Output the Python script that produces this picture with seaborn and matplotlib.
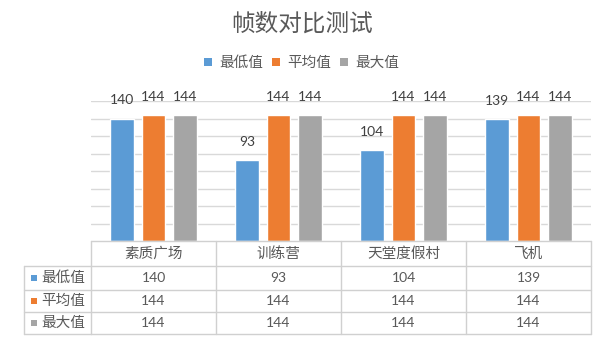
import matplotlib
matplotlib.use('Agg')
import matplotlib.pyplot as plt
import matplotlib.transforms as mtrans
from matplotlib.lines import Line2D
from matplotlib.patches import Rectangle
import seaborn as sns
import pandas as pd

# ---- data ----
categories = ['素质广场', '训练营', '天堂度假村', '飞机']
series_names = ['最低值', '平均值', '最大值']
min_vals = [140, 93, 104, 139]
avg_vals = [144, 144, 144, 144]
max_vals = [144, 144, 144, 144]
colors = ['#5B9BD5', '#ED7D31', '#A5A5A5']
title = '帧数对比测试'

sns.set_theme(style='white')
plt.rcParams['font.family'] = ['Noto Sans CJK SC', 'DejaVu Sans']

W, H = 610, 354
fig = plt.figure(figsize=(W / 100, H / 100), dpi=100)
fig.patch.set_facecolor('white')


def fx(x):
    return x / W


def fy(y):
    return 1 - y / H


TXT = '#595959'
GRID = '#D9D9D9'
LINE = '#D0D0D0'

left, right, top, bottom = 91, 591, 101, 241
ax = fig.add_axes([fx(left), fy(bottom), fx(right) - fx(left), fy(top) - fy(bottom)])

df = pd.DataFrame({
    '类别': categories * 3,
    '系列': [s for s in series_names for _ in categories],
    '值': min_vals + avg_vals + max_vals,
})
sns.barplot(data=df, x='类别', y='值', hue='系列', palette=colors,
            width=0.75, gap=0.24, saturation=1, ax=ax, legend=True,
            zorder=3)

handles, labels = ax.get_legend_handles_labels()
ax.get_legend().remove()

ax.set_ylim(0, 160)
ax.set_xlim(-0.5, len(categories) - 0.5)
ax.set_yticks(range(20, 161, 20))
ax.yaxis.grid(True, color=GRID, lw=1)
ax.xaxis.grid(False)
ax.tick_params(left=False, bottom=False, labelleft=False, labelbottom=False)
ax.set_xlabel('')
ax.set_ylabel('')
for s in ax.spines.values():
    s.set_visible(False)

# data labels
for cont in ax.containers:
    for p in cont.patches:
        h = p.get_height()
        ax.annotate(f'{int(round(h))}', (p.get_x() + p.get_width() / 2, h),
                    xytext=(0, 13), textcoords='offset points',
                    ha='center', va='center', fontsize=10, color='#404040',
                    family=['Lato', 'DejaVu Sans'], annotation_clip=False)

# title
fig.text(fx(302), fy(24), title, ha='center', va='center', fontsize=17,
         color=TXT)

# legend (square markers in the bar colours)
leg_handles = [Line2D([], [], marker='s', linestyle='', markersize=5.5,
                      markerfacecolor=h.get_facecolor(), markeredgewidth=0)
               for h in handles]
fig.legend(leg_handles, labels, loc='center', bbox_to_anchor=(fx(302), fy(63)),
           ncol=3, frameon=False, fontsize=10.5, labelcolor=TXT,
           handlelength=0.5, handletextpad=0.55,
           columnspacing=0.6, borderaxespad=0, borderpad=0)

# data table
blend = mtrans.blended_transform_factory(ax.transData, fig.transFigure)
header_top, header_bot = 241, 266
row_lines = [266, 289.5, 312, 334]
label_left = 24
n = len(categories)
bounds = [i - 0.5 for i in range(n + 1)]


def hline(y, x0, x1, trans):
    fig.add_artist(Line2D([x0, x1], [fy(y), fy(y)], transform=trans,
                          color=LINE, lw=1))


def vline(x, y0, y1, trans):
    fig.add_artist(Line2D([x, x], [fy(y0), fy(y1)], transform=trans,
                          color=LINE, lw=1))


hline(header_top, bounds[0], bounds[-1], blend)
for y in row_lines:
    hline(y, fx(label_left), fx(left), fig.transFigure)
    hline(y, bounds[0], bounds[-1], blend)
for b in bounds:
    vline(b, header_top, row_lines[-1], blend)
vline(fx(label_left), row_lines[0], row_lines[-1], fig.transFigure)

for i, c in enumerate(categories):
    fig.text(i, fy((header_top + header_bot) / 2), c, transform=blend,
             ha='center', va='center', fontsize=10.5, color=TXT)

series_vals = [min_vals, avg_vals, max_vals]
for r, (name, vals, col) in enumerate(zip(series_names, series_vals, colors)):
    yc = (row_lines[r] + row_lines[r + 1]) / 2
    fig.add_artist(Rectangle((fx(31), fy(yc + 3)), fx(6), 6 / H,
                             transform=fig.transFigure, color=col, lw=0))
    fig.text(fx(41), fy(yc), name, ha='left', va='center', fontsize=10.5,
             color=TXT)
    for i, v in enumerate(vals):
        fig.text(i, fy(yc), str(v), transform=blend, ha='center',
                 va='center', fontsize=10, color=TXT,
                 family=['Lato', 'DejaVu Sans'])

fig.savefig('out.png', dpi=100, facecolor='white')
